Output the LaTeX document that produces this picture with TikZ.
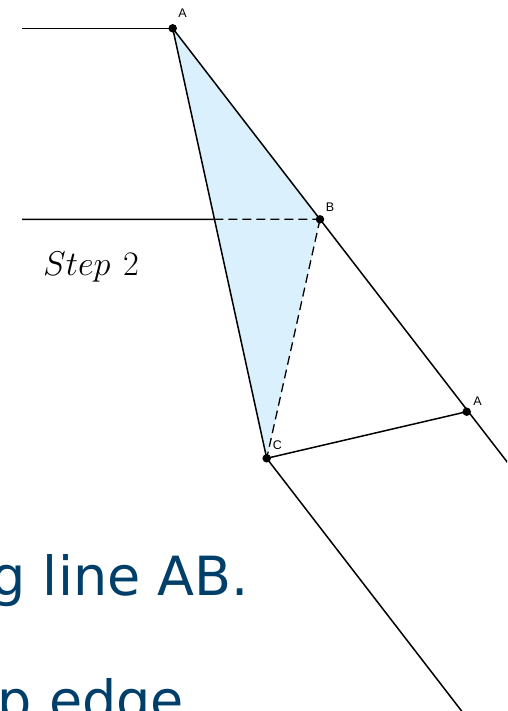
\documentclass[tikz,border=0pt]{standalone}
\usepackage{fontspec}
\setmainfont{Latin Modern Roman}
\newfontfamily\lblfont{Liberation Sans}
\newfontfamily\txtfont{DejaVu Sans}
\usetikzlibrary{calc}
\definecolor{trifill}{RGB}{218,240,253}
\definecolor{txtblue}{RGB}{0,63,105}
\tikzset{
  seg/.style={line width=1.5pt, black},
  dashseg/.style={line width=1.3pt, black, dash pattern=on 9pt off 5pt},
  dot/.style={circle, fill=black, inner sep=0pt, minimum size=8.5pt},
  lbl/.style={font=\lblfont\fontsize{12.5}{13}\selectfont, inner sep=0pt},
  bigtxt/.style={font=\txtfont\fontsize{54}{60}\selectfont, text=txtblue, inner sep=0pt}
}
\begin{document}
\begin{tikzpicture}[x=1pt,y=-1pt]
\useasboundingbox (0,0) rectangle (507,711);
\clip (0,0) rectangle (507,711);
\coordinate (A) at (172.7,28.3);
\coordinate (B) at (320,219.3);
\coordinate (C) at (266.7,458.3);
\coordinate (A2) at (466.7,411.7);
\coordinate (L1) at (22,28.3);
\coordinate (L2) at (22,219.3);
\coordinate (P) at (intersection of A--C and L2--B);
\coordinate (E1) at ($(A)!2.35!(B)$);
\coordinate (E2) at ($(C)+1.4*(147.3,191)$);
% fill
\fill[trifill] (A) -- (B) -- (C) -- cycle;
% lines
\draw[seg] (L1) -- (A);
\draw[seg] (A) -- (E1);
\draw[seg] (A) -- (C);
\draw[seg] (L2) -- (P);
\draw[dashseg] (P) -- (B);
\draw[dashseg] (B) -- (C);
\draw[seg] (C) -- (A2);
\draw[seg] (C) -- (E2);
% points
\node[dot] (dA) at (A) {};
\node[dot] (dB) at (B) {};
\node[dot] (dC) at (C) {};
\node[dot] (dA2) at (A2) {};
% labels
\node[lbl] (lA) at (182.5,13.5) {A};
\node[lbl] (lB) at (330,207) {B};
\node[lbl] (lC) at (277.5,445) {C};
\node[lbl] (lA2) at (477.5,401) {A};
\node[inner sep=0pt, anchor=base, scale=1.38, font=\fontsize{30}{34}\selectfont] (step) at (91,275) {$Step\ 2$};
% bottom text
\node[bigtxt, anchor=base east] (t1) at (249,595) {g line AB.};
\node[bigtxt, anchor=base west] (t2) at (-2.5,719.5) {p edge};
\end{tikzpicture}
\end{document}
